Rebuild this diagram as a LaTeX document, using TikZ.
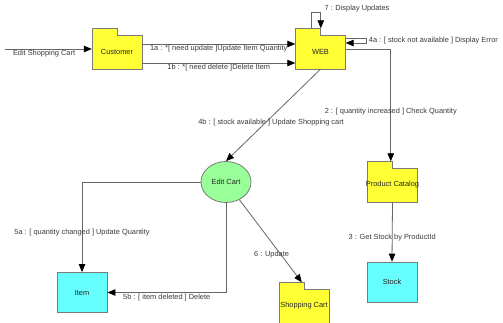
\documentclass[tikz,border=0pt]{standalone}
\usepackage{fontspec}
\setmainfont{Liberation Sans}
\usetikzlibrary{arrows.meta,calc,shapes.geometric}

\definecolor{pkgyellow}{HTML}{FFFF33}
\definecolor{cartgreen}{HTML}{99FF99}
\definecolor{boxcyan}{HTML}{66FFFF}
\definecolor{edgegray}{HTML}{7A7A7A}
\definecolor{wiregray}{HTML}{666666}
\definecolor{labelgray}{HTML}{3A3A3A}

\tikzset{
  folderbody/.style={fill=pkgyellow, draw=edgegray, line width=0.8pt},
  fname/.style={inner sep=0pt, minimum width=50pt, minimum height=34pt,
                font=\fontsize{7.4}{8}\selectfont, text=black!85},
  boxnode/.style={rectangle, fill=boxcyan, draw=edgegray, line width=0.8pt,
                  minimum width=50pt, minimum height=40pt, inner sep=0pt,
                  font=\fontsize{7.4}{8}\selectfont, text=black!85},
  ovalnode/.style={ellipse, fill=cartgreen, draw=edgegray, line width=0.8pt,
                   minimum width=50pt, minimum height=41pt, inner sep=0pt,
                   font=\fontsize{7.4}{8}\selectfont, text=black!85},
  msg/.style={draw=wiregray, line width=0.8pt,
              -{Triangle[length=8pt,width=6.5pt,fill=black,color=black]}},
  lbl/.style={font=\fontsize{7.4}{8}\selectfont, text=labelgray, inner sep=1pt}
}

% folder-shaped package: tab on the upper left half, name centred in the body
\newcommand{\pkgfolder}[4]{% name, x, y, text
  \begin{scope}[shift={(#2,#3)}]
    \filldraw[folderbody] (-25,17) -- (-25,-23.5) -- (0,-23.5) -- (0,-17)
      -- (25,-17) -- (25,17) -- cycle;
    \node[fname] (#1) at (0,0) {#4};
  \end{scope}}

\begin{document}
\begin{tikzpicture}[x=1pt,y=-1pt]
  \useasboundingbox (0,0) rectangle (503,322);
  \fill[white] (0,0) rectangle (503,322);

  % packages and objects
  \pkgfolder{cust}{117}{52}{Customer}
  \pkgfolder{web}{320.5}{52}{WEB}
  \pkgfolder{pc}{392.5}{185}{Product Catalog}
  \pkgfolder{sc}{304}{306}{Shopping Cart}
  \node[ovalnode] (ec) at (226,182) {Edit Cart};
  \node[boxnode] (item) at (82,292.5) {Item};
  \node[boxnode] (stock) at (392,282) {Stock};

  % entry message
  \coordinate (entry) at (5,49);
  \draw[msg] (entry) -- (entry -| cust.west)
    node[lbl, below, pos=0.45] {Edit Shopping Cart};

  % Customer -> WEB
  \draw[msg] ($(cust.east)+(0,-8)$) -- ($(web.west)+(0,-8)$)
    node[lbl, below, midway] {1a : *[ need update ]Update Item Quantity};
  \draw[msg] ($(cust.east)+(0,11)$) -- ($(web.west)+(0,11)$)
    node[lbl, below, midway] {1b : *[ need delete ]Delete Item};

  % WEB self messages
  \coordinate (tabtop) at ($(web.north west)+(16,-6.5)$);
  \coordinate (looptop) at ($(tabtop)+(0,-16)$);
  \coordinate (tabstep) at ($(web.north west)+(25.5,-6.5)$);
  \draw[msg] (tabtop) -- (looptop) -| (tabstep);
  \node[lbl, anchor=south west] at ($(looptop)+(12,1)$) {7 : Display Updates};

  \coordinate (errout) at ($(web.east)+(0,-14)$);
  \coordinate (errin) at ($(web.east)+(0,-9)$);
  \coordinate (errcorner) at ($(errout)+(21,0)$);
  \draw[msg] (errout) -- (errcorner) |- (errin);
  \node[lbl, anchor=west] at ($(errcorner)+(1,3)$)
    {4a : [ stock not available ] Display Error};

  % WEB -> Product Catalog -> Stock
  \coordinate (pctab) at ($(pc.north west)+(25,-6.5)$);
  \draw[msg] ($(web.east)+(0,-3)$) -| (pctab)
    node[lbl, pos=0.78] {2 : [ quantity increased ] Check Quantity};
  \draw[msg] (pc.south) -- (stock.north)
    node[lbl, pos=0.6] {3 : Get Stock by ProductId};

  % WEB -> Edit Cart
  \draw[msg] (web.south) -- (ec.north)
    node[lbl, pos=0.576, xshift=5pt] {4b : [ stock available ] Update Shopping cart};

  % Edit Cart -> Item
  \draw[msg] (ec.west) -| (item.north)
    node[lbl, pos=0.78] {5a : [ quantity changed ] Update Quantity};
  \draw[msg] (ec.south) |- (item.east)
    node[lbl, below, pos=0.75, yshift=-0.5pt] {5b : [ item deleted ] Delete};

  % Edit Cart -> Shopping Cart
  \coordinate (sctab) at ($(sc.north west)+(23,-6.5)$);
  \draw[msg] (ec) -- (sctab)
    node[lbl, pos=0.66, xshift=-9pt] {6 : Update};
\end{tikzpicture}
\end{document}
